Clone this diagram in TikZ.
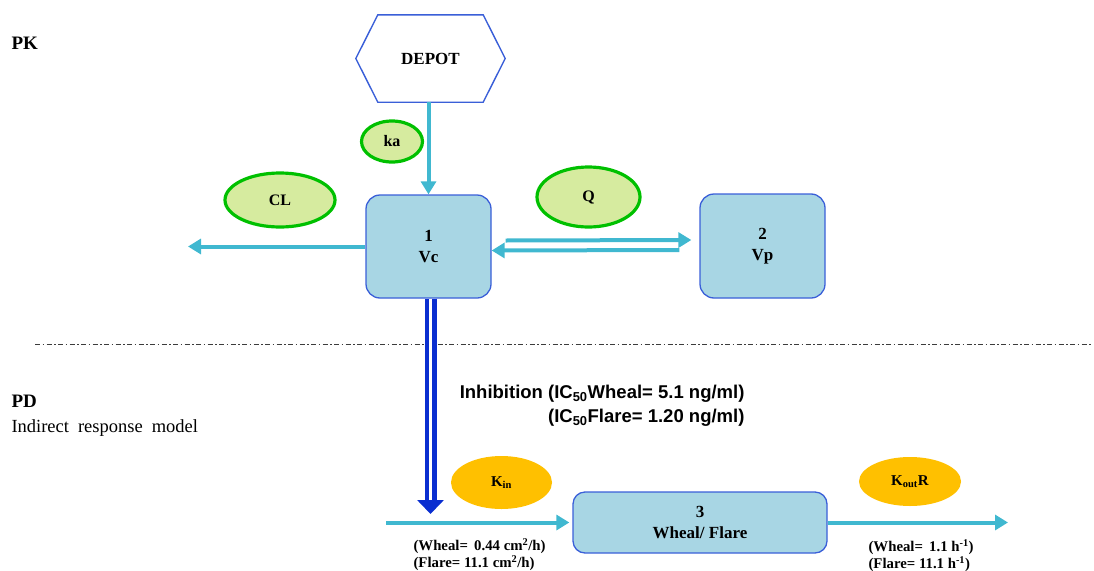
\documentclass[tikz,border=0pt]{standalone}
\usepackage{fontspec}
\setmainfont{Liberation Serif}
\newfontfamily\arialfont{Liberation Sans}
\usetikzlibrary{arrows.meta,shapes.geometric}
\definecolor{boxfill}{RGB}{168,214,228}
\definecolor{boxline}{RGB}{58,95,216}
\definecolor{flow}{RGB}{64,184,208}
\definecolor{parfill}{RGB}{214,235,159}
\definecolor{parline}{RGB}{0,192,0}
\definecolor{rateorange}{RGB}{255,192,0}
\definecolor{inhib}{RGB}{10,46,208}
\definecolor{sepline}{RGB}{60,60,60}
\begin{document}
\begin{tikzpicture}[x=1pt,y=-1pt,
  comp/.style={draw=boxline, fill=boxfill, line width=1.3pt, rounded corners=14pt,
    align=center, inner sep=0pt, font=\fontsize{17}{21}\selectfont\bfseries},
  param/.style={ellipse, draw=parline, fill=parfill, line width=3.2pt, inner sep=0pt,
    font=\fontsize{16}{18}\selectfont\bfseries},
  rate/.style={ellipse, fill=rateorange, inner sep=0pt,
    font=\fontsize{15}{18}\selectfont\bfseries},
  flowarrow/.style={draw=flow, line width=4pt, -{Triangle[length=13pt,width=15pt]}},
  inhibarrow/.style={draw=inhib, line width=4.5pt, double=white, double distance=3pt,
    -{Triangle[length=14pt,width=26pt]}},
  section/.style={anchor=west, font=\fontsize{19}{22}\selectfont\bfseries},
  note/.style={align=left, font=\fontsize{14.8}{17}\selectfont\bfseries},
]
\useasboundingbox (0,0) rectangle (1094,570);

% section labels
\node[section] (pk) at (8,43) {PK};
\node[section] (pd) at (8,401) {PD};
\node[anchor=west, font=\fontsize{18.5}{20}\selectfont] (irm) at (8,428)
  {\spaceskip=9pt Indirect response model};

% PK / PD separator
\coordinate (sepL) at (35,344);
\coordinate (sepR) at (1092,344);
\draw[sepline, line width=1pt, dash pattern=on 5pt off 2.5pt on 1.5pt off 2.5pt] (sepL) -- (sepR);

% depot (hexagon)
\node[minimum width=149pt, minimum height=87pt, inner sep=0pt] (depot) at (430.5,58.5) {};
\draw[boxline, line width=1.4pt, fill=white]
  (depot.west) -- ([xshift=22pt]depot.north west) -- ([xshift=-22pt]depot.north east)
  -- (depot.east) -- ([xshift=-22pt]depot.south east) -- ([xshift=22pt]depot.south west) -- cycle;
\node[font=\fontsize{17}{20}\selectfont\bfseries] (depotlabel) at (depot.center) {DEPOT};

% compartments
\node[comp, minimum width=125pt, minimum height=103pt] (vc) at (428.5,246.5) {1\\Vc};
\node[comp, minimum width=125pt, minimum height=104pt] (vp) at (762.5,246) {2\\Vp};
\node[comp, minimum width=254pt, minimum height=61pt, rounded corners=12pt] (wf) at (700,522.5) {3\\Wheal/ Flare};

% PK parameters
\node[param, minimum width=61pt, minimum height=41pt] (ka) at (392,141.5) {ka};
\node[param, minimum width=110pt, minimum height=54pt] (cl) at (280,200) {CL};
\node[param, minimum width=103pt, minimum height=60pt] (q) at (588.5,197) {Q};

% PD rate constants
\node[rate, minimum width=101pt, minimum height=53pt] (kin) at (501.5,482.5) {K\textsubscript{in}};
\node[rate, minimum width=102pt, minimum height=49pt] (kout) at (910,481.5) {K\textsubscript{out}R};

% PK flows
\draw[flowarrow] (vc.north |- depot.south) -- (vc.north);
\coordinate (clend) at (188,246.5);
\draw[flowarrow] (vc.west) -- (clend);
\draw[flowarrow] ([xshift=14pt,yshift=6pt]vc.east) -- ([xshift=-8pt,yshift=6pt]vp.west);
\draw[flowarrow] ([xshift=-20pt,yshift=-4pt]vp.west) -- ([yshift=-4pt]vc.east);

% PD flows
\coordinate (inL) at (386,522.5);
\coordinate (outR) at (1008,522.5);
\draw[flowarrow] (inL) -- ([xshift=-3pt]wf.west);
\draw[flowarrow] (wf.east) -- (outR);

% inhibition of the input
\coordinate (inhtip) at (430.5,514);
\draw[inhibarrow] ([xshift=2pt]vc.south) -- (inhtip);
\node[anchor=east, align=right, font=\arialfont\fontsize{18.5}{24}\selectfont\bfseries] (ic50) at (748,406)
  {Inhibition (IC\textsubscript{50}Wheal= 5.1 ng/ml)\\(IC\textsubscript{50}Flare= 1.20 ng/ml)};

% rate values
\node[note, anchor=north west] (kinval) at (410,535)
  {(Wheal= \,0.44 cm\textsuperscript{2}/h)\\(Flare= 11.1 cm\textsuperscript{2}/h)};
\node[note, anchor=north west] (koutval) at (865,536)
  {(Wheal= \,1.1 h\textsuperscript{-1})\\(Flare= 11.1 h\textsuperscript{-1})};
\end{tikzpicture}
\end{document}
